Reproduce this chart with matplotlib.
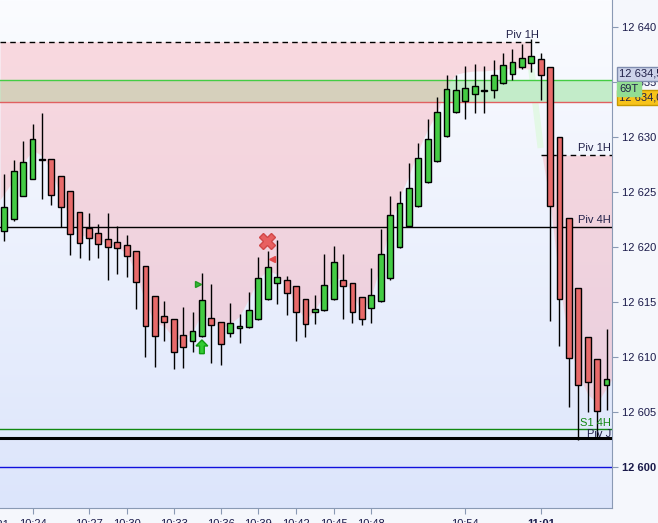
import numpy as np
import matplotlib
matplotlib.use("Agg")
import matplotlib.pyplot as plt
import matplotlib.transforms as mtransforms

plt.rcParams['font.family'] = ['Liberation Sans', 'DejaVu Sans']

## OHLC of the 65 candles (one candle per index)
opens = [12621.45, 12622.52, 12624.67, 12626.21, 12627.91, 12627.97, 12626.42, 12625.06, 12623.15, 12621.70,
         12621.24, 12620.70, 12620.42, 12620.15, 12619.61, 12618.24, 12615.52, 12613.70, 12613.42, 12611.97,
         12611.42, 12611.88, 12613.52, 12613.15, 12612.15, 12612.61, 12612.70, 12613.48, 12615.30, 12616.70,
         12616.97, 12616.42, 12615.24, 12614.06, 12614.24, 12615.30, 12616.97, 12616.70, 12615.42, 12614.42,
         12615.06, 12617.15, 12620.03, 12621.94, 12623.70, 12625.88, 12627.79, 12630.06, 12632.24, 12633.24,
         12633.88, 12634.18, 12634.24, 12634.88, 12635.73, 12636.33, 12636.70, 12637.06, 12636.33, 12629.97,
         12622.61, 12616.24, 12611.82, 12609.79, 12607.42]
highs = [12626.64, 12627.91, 12629.64, 12631.18, 12632.15, 12627.97, 12626.42, 12625.06, 12623.15, 12623.06,
         12622.09, 12623.06, 12621.91, 12621.09, 12619.61, 12618.24, 12615.52, 12615.09, 12613.42, 12614.55,
         12614.09, 12617.61, 12616.64, 12613.15, 12614.88, 12613.88, 12615.91, 12619.09, 12619.64, 12620.64,
         12617.36, 12616.42, 12615.24, 12615.64, 12619.36, 12620.06, 12619.36, 12616.70, 12615.42, 12618.06,
         12621.64, 12624.67, 12625.09, 12627.61, 12629.42, 12631.61, 12633.64, 12635.64, 12635.64, 12636.45,
         12636.64, 12636.45, 12637.00, 12637.61, 12637.97, 12638.42, 12638.94, 12637.61, 12636.33, 12629.97,
         12622.61, 12616.24, 12611.82, 12609.79, 12612.55]
lows = [12620.58, 12622.40, 12624.60, 12626.20, 12624.36, 12623.85, 12621.85, 12619.27, 12619.03, 12618.82,
        12619.03, 12617.00, 12617.58, 12617.30, 12614.33, 12610.03, 12609.06, 12611.48, 12608.88, 12609.03,
        12610.48, 12611.80, 12609.48, 12609.30, 12611.85, 12611.30, 12612.60, 12613.40, 12615.20, 12614.85,
        12613.85, 12611.48, 12611.85, 12613.03, 12614.20, 12615.20, 12613.48, 12613.06, 12612.88, 12613.06,
        12615.00, 12617.00, 12619.90, 12621.90, 12623.60, 12625.80, 12627.70, 12630.00, 12632.20, 12631.61,
        12632.15, 12632.15, 12633.52, 12634.80, 12635.18, 12636.15, 12635.94, 12633.36, 12613.30, 12611.03,
        12605.48, 12602.45, 12605.03, 12602.76, 12605.18]
closes = [12623.67, 12626.88, 12627.70, 12629.79, 12627.91, 12624.76, 12623.67, 12621.15, 12620.33, 12620.79,
          12620.24, 12620.03, 12619.88, 12619.15, 12616.85, 12612.79, 12611.88, 12613.15, 12610.42, 12610.88,
          12612.33, 12615.15, 12612.88, 12611.15, 12613.06, 12612.79, 12614.24, 12617.15, 12618.15, 12617.24,
          12615.79, 12614.06, 12612.97, 12614.33, 12616.52, 12618.61, 12616.42, 12614.06, 12613.42, 12615.61,
          12619.33, 12622.88, 12623.97, 12625.33, 12628.06, 12629.79, 12632.24, 12634.33, 12634.24, 12634.42,
          12634.61, 12634.18, 12635.61, 12636.52, 12636.85, 12637.15, 12637.33, 12635.61, 12623.70, 12615.27,
          12609.88, 12607.42, 12607.70, 12605.06, 12608.03]

## smoothed line that bounds the shaded cloud
cloud = [12624.3, 12626.1, 12627.6, 12628.8, 12628.3, 12626.9, 12624.6, 12622.5, 12621.2, 12620.8,
         12620.6, 12620.3, 12620.0, 12619.4, 12617.6, 12614.9, 12613.1, 12612.8, 12611.7, 12611.6,
         12612.3, 12614.0, 12613.4, 12612.6, 12613.0, 12613.7, 12615.3, 12617.1, 12617.9, 12617.5,
         12616.4, 12614.6, 12613.4, 12614.2, 12615.8, 12617.2, 12617.1, 12615.8, 12614.0, 12615.5,
         12618.5, 12622.0, 12624.5, 12626.5, 12628.8, 12630.7, 12632.2, 12634.6, 12635.7, 12635.9,
         12636.0, 12636.0, 12636.1, 12636.2, 12636.2, 12636.2, 12636.2, 12629.0, 12624.0, 12616.7,
         12611.2, 12608.5, 12606.6, 12605.8, 12608.0]

time_labels = ["10:24", "10:27", "10:30", "10:33", "10:36", "10:39", "10:42", "10:45", "10:48", "10:54", "11:01"]
time_pos = [3, 9, 13, 18, 23, 27, 31, 35, 39, 49, 57]

y_ticks = [12600, 12605, 12610, 12615, 12620, 12625, 12630, 12635, 12640]

piv_1h_first = 12638.66
piv_1h_second = 12628.35
piv_4h = 12621.85
s1_4h = 12603.48
piv_j = 12602.67
round_level = 12600.0
zone_top = 12635.15
zone_bottom = 12633.15
price_ask = "12 634,5"
price_bid = "12 634,0"
ticks_left = "69T"

split = 56          # last candle of the first pivot segment
x_min, x_max = -0.457, 64.58

idx = np.arange(len(opens))
o = np.array(opens); h = np.array(highs); l = np.array(lows); c = np.array(closes)
cl = np.array(cloud)

fig = plt.figure(figsize=(6.58, 5.23), dpi=100, facecolor='#f5f7fc')
ax = fig.add_axes([0, 15 / 523, 612 / 658, 508 / 523])

## background gradient white -> light blue
top = np.array([251, 252, 255]) / 255
bot = np.array([220, 229, 251]) / 255
t = np.linspace(0, 1, 256)[:, None, None]
grad = top * (1 - t) + bot * t
ax.imshow(grad, extent=[0, 1, 0, 1], transform=ax.transAxes, aspect='auto', zorder=0)

## zone band and cloud fills
ax.axhspan(zone_bottom, zone_top, color=(195 / 255, 236 / 255, 201 / 255), lw=0, zorder=1.5)
pink = (250 / 255, 157 / 255, 166 / 255)
xa = idx[:split + 1].astype(float); xa[0] = x_min
ya = cl[:split + 1]
ax.fill_between(xa, ya, piv_1h_first, where=ya < piv_1h_first, color=pink, alpha=0.35, lw=0, zorder=2)
xb = idx[split:].astype(float); xb[-1] = x_max
yb = cl[split:]
ax.fill_between(xb, yb, piv_1h_second, where=yb < piv_1h_second, interpolate=True,
                color=pink, alpha=0.35, lw=0, zorder=2)
ax.plot(idx[split:split + 2], cl[split:split + 2], color='#e3f8e6', lw=4.5, solid_capstyle='butt', zorder=1.4)

## horizontal levels
ax.axhline(zone_top, color='#44cc44', lw=1, zorder=3)
ax.axhline(zone_bottom, color='#e06060', lw=1, zorder=3)
ax.hlines(piv_1h_first, x_min, split + 0.8, color='black', lw=1, linestyle=(0, (4, 3)), zorder=3)
ax.hlines(piv_1h_second, split + 1.0, x_max, color='black', lw=1, linestyle=(0, (4, 3)), zorder=3)
ax.axhline(piv_4h, color='black', lw=1, zorder=3)
ax.axhline(s1_4h, color='#118811', lw=1, zorder=3)
ax.axhline(piv_j, color='black', lw=2.2, zorder=3)
ax.axhline(round_level, color='#1010dd', lw=1, zorder=3)

## candles
colors = np.where(c >= o, '#44cc44', '#e86a6a')
ax.vlines(idx, l, h, color='black', lw=1, zorder=4)
ax.bar(idx, np.maximum(np.abs(c - o), 0.12), bottom=np.minimum(o, c), width=0.62,
       color=colors, edgecolor='black', linewidth=1, zorder=5)

## signal markers
ax.plot(21 - 0.45, 12616.6, marker='>', ms=5, color='#33bb33', mec='#229922', zorder=6)
ax.arrow(21, 12610.3, 0, 0.7, width=0.5, head_width=1.25, head_length=0.55,
         length_includes_head=False, fc='#33cc33', ec='#119911', lw=1, zorder=6)
ax.plot(27.95, 12620.55, marker='X', ms=11, color='#e86060', mec='#d04848', zorder=6)
ax.plot(28.4, 12618.9, marker='<', ms=5, color='#e04848', zorder=6)

## level labels
lab = dict(fontsize=8, color='#202048', zorder=7)
ax.text(split + 0.8, piv_1h_first + 0.15, "Piv 1H", ha='right', va='bottom', **lab)
trans = mtransforms.blended_transform_factory(ax.transAxes, ax.transData)
ax.text(0.998, piv_1h_second + 0.15, "Piv 1H", ha='right', va='bottom', transform=trans, **lab)
ax.text(0.998, piv_4h + 0.15, "Piv 4H", ha='right', va='bottom', transform=trans, **lab)
ax.text(0.998, s1_4h + 0.1, "S1 4H", ha='right', va='bottom', transform=trans,
        fontsize=8, color='#118811', zorder=7)
ax.text(0.998, piv_j - 0.1, "Piv J", ha='right', va='bottom', transform=trans, **lab)

## price tags on the axis
ax.text(1.012, 12635.73, price_ask, ha='left', va='center', transform=trans, fontsize=8, color='#202048',
        clip_on=False, zorder=8,
        bbox=dict(boxstyle='square,pad=0.2', fc='#cdd3ea', ec='#7f8cae', lw=1))
ax.text(1.012, 12633.6, price_bid, ha='left', va='center', transform=trans, fontsize=8, color='#202048',
        clip_on=False, zorder=8,
        bbox=dict(boxstyle='square,pad=0.2', fc='#f7c31a', ec='#c89a00', lw=1))
ax.text(1.012, 12634.35, ticks_left, ha='left', va='center', transform=trans, fontsize=8, color='#202048',
        clip_on=False, zorder=9,
        bbox=dict(boxstyle='square,pad=0.2', fc='#92dd92', ec='#92dd92', lw=1))

## axes
ax.set_xlim(x_min, x_max)
ax.set_ylim(12596.27, 12642.45)
for s in ['top', 'left']:
    ax.spines[s].set_visible(False)
for s in ['right', 'bottom']:
    ax.spines[s].set_color('#8a9ab4')
ax.yaxis.tick_right()
ax.set_yticks(y_ticks, labels=[f"{v:,}".replace(",", " ") for v in y_ticks])
ax.set_xticks(time_pos, labels=time_labels)
ax.tick_params(axis='y', direction='out', length=4, pad=3, color='#8a9ab4', labelsize=8, labelcolor='#1a1a4a')
ax.tick_params(axis='x', direction='out', length=4, pad=4, color='#8a9ab4', labelsize=8, labelcolor='#1a1a4a')
for t_ in ax.get_yticklabels():
    if t_.get_text() == "12 600":
        t_.set_fontweight('bold')
for t_ in ax.get_xticklabels():
    if t_.get_text() == "11:01":
        t_.set_fontweight('bold')
ax.text(-1, 12596.27 - 1.1, "10:21", ha='center', va='top', fontsize=8, color='#1a1a4a', clip_on=False)

fig.savefig("out.png", dpi=100, facecolor=fig.get_facecolor())
